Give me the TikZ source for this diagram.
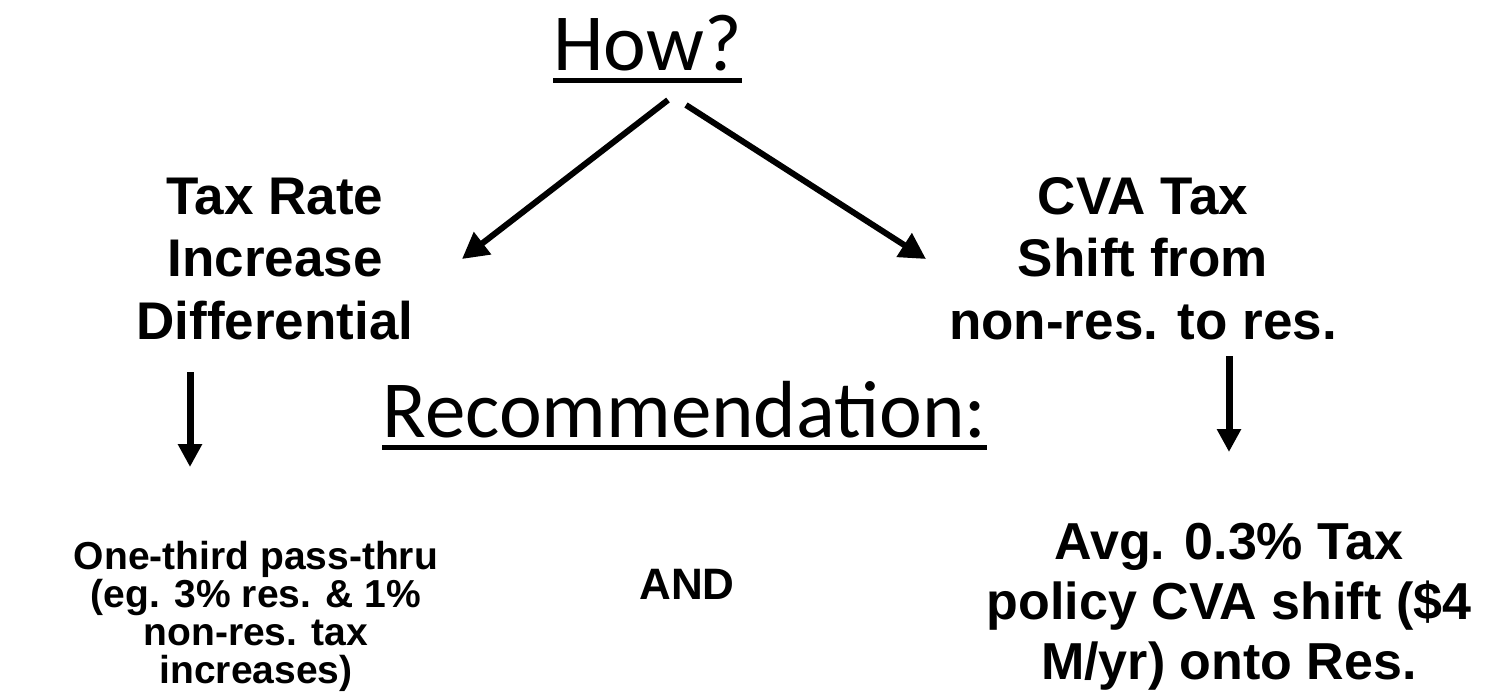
\documentclass[tikz,border=0pt]{standalone}
\usepackage{fontspec}
\setmainfont{Liberation Sans}
\newfontfamily\calibrifont{Carlito}
\usetikzlibrary{arrows.meta}

\begin{document}
\begin{tikzpicture}[x=0.5pt, y=-0.5pt,
   every node/.style={inner sep=0pt, outer sep=0pt},
   heading/.style={font=\calibrifont\fontsize{40.5}{48}\selectfont, anchor=base},
   point/.style={font=\bfseries\fontsize{26.5}{31.25}\selectfont, align=center, anchor=base},
   result/.style={font=\bfseries\fontsize{26}{30}\selectfont, align=center, anchor=base},
   detail/.style={font=\bfseries\fontsize{19.5}{19}\selectfont, align=center, anchor=base},
   uline/.style={line width=2.5pt},
   split/.style={line width=3pt, -{Triangle[length=13pt,width=13.5pt]}},
   down/.style={line width=3.5pt, -{Triangle[length=11.5pt,width=11.5pt]}}]

\useasboundingbox (0,0) rectangle (1485,693);

% headings
\node[heading] (how) at (647.5,70) {How?};
\draw[uline] ([yshift=-5pt]how.base west) -- ([yshift=-5pt]how.base east);
\node[heading] (rec) at (684.5,437) {Recommendation:};
\draw[uline] ([yshift=-5pt]rec.base west) -- ([yshift=-5pt]rec.base east);

% the two options (base = last line)
\node[point] (rate) at (275,339) {Tax Rate\\Increase\\Differential};
\node[point] (cva) at (1143,339) {CVA Tax\\Shift from\\non-res. to res.};

\coordinate (howL) at (668,100);
\coordinate (howR) at (686,105);
\coordinate (rateIn) at (462,259);
\coordinate (cvaIn) at (926,259);
\draw[split] (howL) -- (rateIn);
\draw[split] (howR) -- (cvaIn);

% what each one means
\node[detail] (pass) at (256,683) {One-third pass-thru\\(eg. 3\% res. \& 1\%\\non-res. tax\\increases)};
\node[font=\bfseries\fontsize{22}{26}\selectfont, anchor=base] (and) at (687,599) {AND};
\node[result] (shift) at (1229,679) {Avg. 0.3\% Tax\\policy CVA shift (\$4\\M/yr) onto Res.};

\coordinate (rateOut) at (190,372);
\coordinate (passIn) at (190,467);
\coordinate (cvaOut) at (1229,356);
\coordinate (shiftIn) at (1229,452);
\draw[down] (rateOut) -- (passIn);
\draw[down] (cvaOut) -- (shiftIn);

\end{tikzpicture}
\end{document}
